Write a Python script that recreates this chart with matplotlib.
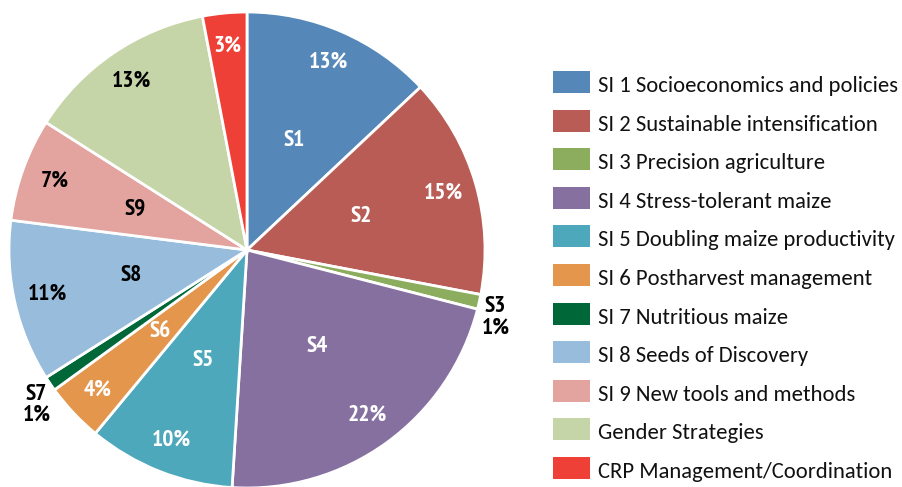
import numpy as np
import matplotlib
matplotlib.use("Agg")
import matplotlib.pyplot as plt
import matplotlib.font_manager as fm
from matplotlib.font_manager import FontProperties
from matplotlib.textpath import TextPath
from matplotlib.patches import Rectangle

# slice data (clockwise from 12 o'clock)
names = ["SI 1 Socioeconomics and policies", "SI 2 Sustainable intensification",
         "SI 3 Precision agriculture", "SI 4 Stress-tolerant maize",
         "SI 5 Doubling maize productivity", "SI 6 Postharvest management",
         "SI 7 Nutritious maize", "SI 8 Seeds of Discovery",
         "SI 9 New tools and methods", "Gender Strategies",
         "CRP Management/Coordination"]
short = ["S1", "S2", "S3", "S4", "S5", "S6", "S7", "S8", "S9", "", ""]
shares = [13, 15, 1, 22, 10, 4, 1, 11, 7, 13, 3]
colors = ["#5588b8", "#b95c55", "#8cad5e", "#8670a0", "#4ea8bb", "#e3964c",
          "#006838", "#97bcdc", "#e3a39e", "#c6d5a7", "#ee4036"]
text_col = ["white", "white", "black", "white", "white", "white",
            "black", "black", "black", "black", "white"]
outside = [False, False, True, False, False, False, True, False, False, False, False]


def pick(prefs, bold=False):
    have = {}
    for f in fm.fontManager.ttflist:
        w = f.weight if isinstance(f.weight, int) else 400
        if (not bold or w >= 600) and f.style == "normal":
            have[f.name] = True
    for p in prefs:
        if p in have:
            return p
    return "DejaVu Sans"


label_name = pick(["PT Sans Narrow", "Fira Sans Condensed", "Roboto Condensed",
                   "Open Sans Condensed", "Archivo Narrow", "Sofia Sans Condensed",
                   "Asap Condensed"], bold=True)
legend_name = pick(["Carlito", "Source Sans 3", "Source Sans Pro", "Open Sans"])
label_font = [label_name, "DejaVu Sans"]
legend_font = [legend_name, "DejaVu Sans"]

W, H = 902, 487
DPI = 100
fig = plt.figure(figsize=(W / DPI, H / DPI), dpi=DPI)
renderer = fig.canvas.get_renderer()


def fit_width(txt, target_px, **kw):
    t = fig.text(0, 0, txt, fontsize=10, **kw)
    w = t.get_window_extent(renderer).width
    t.remove()
    return 10 * target_px / w


def fit_cap(target_px, family, weight):
    tp = TextPath((0, 0), "S1", size=10, prop=FontProperties(family=family, weight=weight))
    h_pt = tp.get_extents().height
    return 10 * target_px / (h_pt * DPI / 72)


lab_size = fit_cap(17, label_font, "bold")
leg_size = fit_width(names[0], 300, family=legend_font)

ax = fig.add_axes([9 / W, -1 / H, 476 / W, 476 / H])
wedges, _ = ax.pie(shares, colors=colors, startangle=90, counterclock=False,
                   radius=1, center=(0, 0), frame=True,
                   wedgeprops=dict(edgecolor="white", linewidth=2))
ax.set_xlim(-1, 1)
ax.set_ylim(-1, 1)
ax.axis("off")

total = float(sum(shares))
cum = 0.0
for i, v in enumerate(shares):
    mid = (cum + v / 2) / total * 2 * np.pi  # clockwise from top
    cum += v
    sx, sy = np.sin(mid), np.cos(mid)
    if outside[i]:
        r = 1.07
        ax.text(r * sx, r * sy - 0.05, f"{short[i]}\n{v}%", ha="center", va="center",
                color="black", fontsize=lab_size, fontweight="bold", family=label_font,
                linespacing=1.0, clip_on=False)
        continue
    ax.text(0.86 * sx, 0.86 * sy, f"{v}%", ha="center", va="center",
            color=text_col[i], fontsize=lab_size, fontweight="bold", family=label_font)
    if short[i]:
        ax.text(0.5 * sx, 0.5 * sy, short[i], ha="center", va="center",
                color=text_col[i], fontsize=lab_size, fontweight="bold", family=label_font)

# legend, drawn as swatches + labels in pixel units
row_top, pitch = 71, 38.6
for i, (c, n) in enumerate(zip(colors, names)):
    top = row_top + i * pitch
    fig.add_artist(Rectangle((553 / W, 1 - (top + 22) / H), 37 / W, 22 / H,
                             transform=fig.transFigure, facecolor=c, edgecolor="none"))
    fig.text(598 / W, 1 - (top + 21) / H, n, ha="left", va="baseline",
             fontsize=leg_size, family=legend_font, color="#111111")

fig.savefig("out.png", dpi=DPI)
